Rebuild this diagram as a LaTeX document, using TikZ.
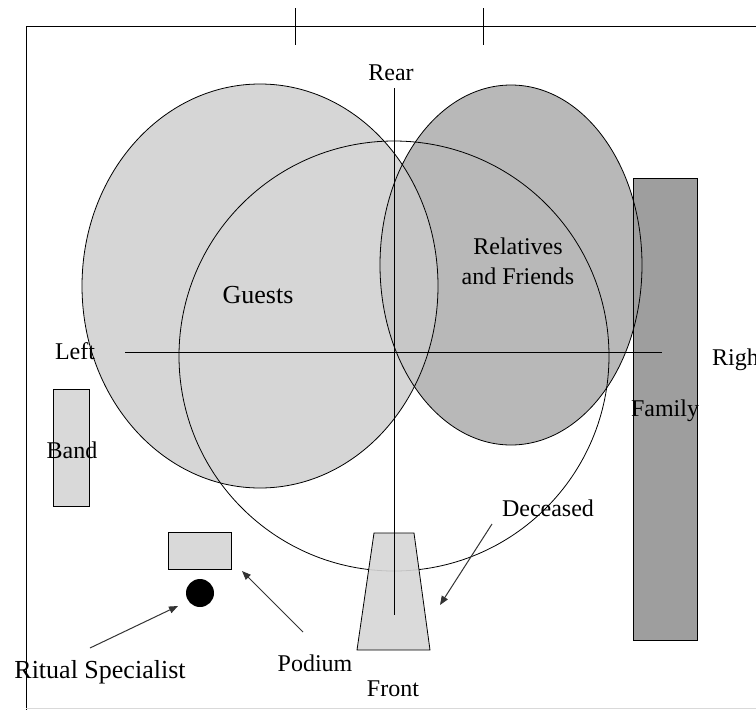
\documentclass[tikz,border=0pt]{standalone}
\usepackage{fontspec}
\setmainfont{Liberation Serif}
\usetikzlibrary{arrows.meta}
\tikzset{
  lbl/.style={inner sep=0pt, font=\fontsize{24}{30}\selectfont},
  biglbl/.style={inner sep=0pt, font=\fontsize{26}{30}\selectfont},
  outline/.style={draw=black, line width=0.8pt},
  pointer/.style={draw=black!80, line width=1pt, -{Triangle[length=9pt,width=7pt]}},
  axis/.style={draw=black, line width=0.9pt},
}
\begin{document}
\begin{tikzpicture}[x=1pt,y=-1pt]
\useasboundingbox (0,0) rectangle (756,710);

% frame and ticks
\coordinate (fl) at (26,26);
\coordinate (fr) at (756,26);
\coordinate (fb) at (26,710);
\draw[axis] (fb) -- (fl) -- (fr);
\draw[axis] (295,8) -- (295,45);
\draw[axis] (483,8) -- (483,45);
\draw[black!15, line width=1pt] (26,708) -- (756,708);

% seating areas
\fill[black!28] (511,265) ellipse [x radius=131pt, y radius=180pt];
\fill[black!16] (260,286) ellipse [x radius=178pt, y radius=202pt];
\begin{scope}
  \clip (260,286) ellipse [x radius=178pt, y radius=202pt];
  \fill[black!22] (511,265) ellipse [x radius=131pt, y radius=180pt];
\end{scope}
\node[outline, fill=black!38, minimum width=64pt, minimum height=462pt, inner sep=0pt] (family) at (665,409) {};
\draw[outline] (260,286) ellipse [x radius=178pt, y radius=202pt];
\draw[outline] (511,265) ellipse [x radius=131pt, y radius=180pt];
\draw[line width=0.8pt] (394,356) circle [radius=215pt];

% axes
\coordinate (rt) at (394,88);
\coordinate (fo) at (394,615);
\coordinate (lt) at (125,352);
\coordinate (rr) at (662,352);
\draw[axis] (rt) -- (fo);
\draw[axis] (lt) -- (rr);

% furniture
\node[outline, fill=black!15, minimum width=36pt, minimum height=117pt, inner sep=0pt] (band) at (71,448) {};
\node[outline, fill=black!15, minimum width=63pt, minimum height=37pt, inner sep=0pt] (podium) at (200,551) {};
\node[circle, fill=black, minimum size=28pt, inner sep=0pt] (spec) at (200,593) {};
\fill[black!16, opacity=0.9] (374,533) -- (414,533) -- (430,650) -- (357,650) -- cycle;
\draw[outline] (374,533) -- (414,533) -- (430,650) -- (357,650) -- cycle;
\coordinate (coffin) at (440,605);
\draw[axis] (394,533) -- (fo);

% labels
\node[lbl] (rear) at (391,73) {Rear};
\node[lbl] (left) at (75,351) {Left};
\node[lbl, anchor=west] (right) at (712,360) {Right};
\node[biglbl] (guests) at (258,295) {Guests};
\node[lbl, align=center] (rel) at (518,261) {Relatives\\and Friends};
\node[lbl] (fam) at (665,411) {Family};
\node[lbl] (bandl) at (72,450) {Band};
\node[lbl] (dec) at (548,508) {Deceased};
\node[lbl] (pod) at (315,663) {Podium};
\node[lbl] (front) at (393,689) {Front};
\node[biglbl] (ritual) at (100,672) {Ritual Specialist};

% pointers
\draw[pointer] (90,648) -- (178,606);
\draw[pointer] (303,632) -- (242,571);
\draw[pointer] (492,524) -- (coffin);
\end{tikzpicture}
\end{document}
